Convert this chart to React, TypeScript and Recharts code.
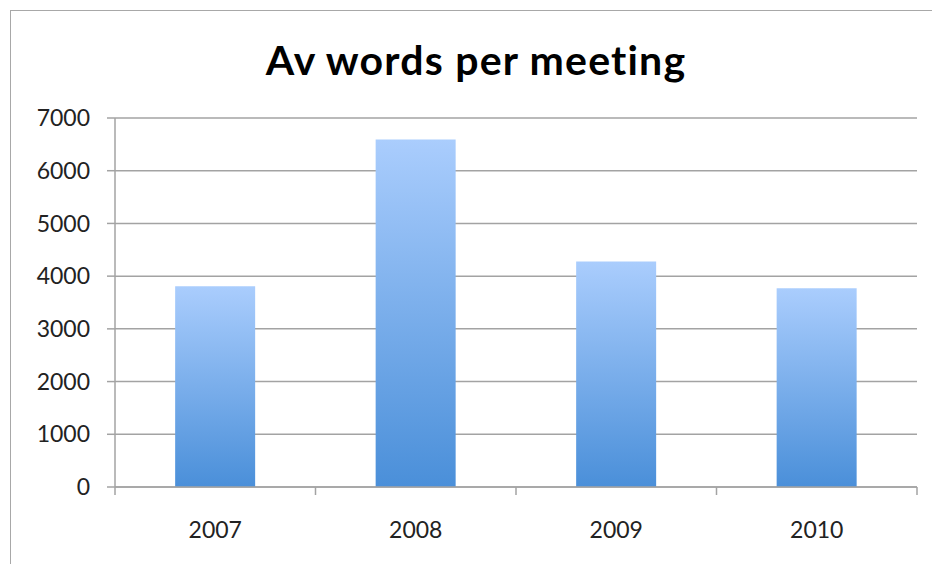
import { BarChart, Bar, XAxis, YAxis, CartesianGrid } from "recharts"

const years = ["2007", "2008", "2009", "2010"]
const avgWords = [3810, 6590, 4280, 3770]
const yTicks = [0, 1000, 2000, 3000, 4000, 5000, 6000, 7000]
const edgeTicks = [0, 1, 2, 3, 4]

const data = years.map((year, i) => ({ year, words: avgWords[i], pos: i + 0.5 }))

const AXIS_GREY = "#a3a3a3"
const FONT = "Lato, 'Open Sans', sans-serif"

export default function App() {
  return (
    <div
      style={{
        position: "fixed",
        left: 0,
        top: 0,
        width: 932,
        height: 564,
        background: "#fff",
        overflow: "hidden",
      }}
    >
      {/* frame of the original chart object, cut off at right and bottom */}
      <div
        style={{
          position: "absolute",
          left: 10,
          top: 10,
          right: -20,
          bottom: -20,
          borderLeft: "1.5px solid #a8a8a8",
          borderTop: "1.5px solid #a8a8a8",
        }}
      />
      <div
        style={{
          position: "absolute",
          left: 0,
          width: 952,
          top: 35,
          textAlign: "center",
          fontFamily: FONT,
          fontWeight: 700,
          fontSize: 41,
          letterSpacing: 1.2,
          lineHeight: "50px",
          color: "#000",
        }}
      >
        Av words per meeting
      </div>
      <div style={{ position: "absolute", left: 0, top: 0 }}>
        <BarChart
          width={932}
          height={564}
          data={data}
          margin={{ top: 118, right: 15, bottom: 0, left: 0 }}
          barCategoryGap="30%"
        >
          <defs>
            <linearGradient id="barFill" x1="0" y1="0" x2="0" y2="1">
              <stop offset="0%" stopColor="#aacdfd" />
              <stop offset="100%" stopColor="#4a8fd9" />
            </linearGradient>
          </defs>
          <CartesianGrid vertical={false} stroke={AXIS_GREY} strokeWidth={1.5} />
          {/* boundary ticks between categories, like the original axis */}
          <XAxis
            xAxisId="a_edges"
            type="number"
            dataKey="pos"
            domain={[0, 4]}
            ticks={edgeTicks}
            interval={0}
            allowDataOverflow
            height={1}
            tickSize={8}
            tickFormatter={() => ""}
            axisLine={{ stroke: AXIS_GREY, strokeWidth: 1.5 }}
            tickLine={{ stroke: AXIS_GREY, strokeWidth: 1.5 }}
          />
          <XAxis
            xAxisId="b_cat"
            dataKey="year"
            height={76}
            axisLine={false}
            tickLine={false}
            tickSize={34}
            tickMargin={0}
            tick={{ fill: "#222", fontSize: 23, fontFamily: FONT }}
          />
          <YAxis
            domain={[0, 7000]}
            ticks={yTicks}
            interval={0}
            width={115}
            tickSize={8}
            tickMargin={17}
            axisLine={{ stroke: AXIS_GREY, strokeWidth: 1.5 }}
            tickLine={{ stroke: AXIS_GREY, strokeWidth: 1.5 }}
            tick={{ fill: "#222", fontSize: 23, fontFamily: FONT }}
          />
          <Bar xAxisId="b_cat" dataKey="words" fill="url(#barFill)" isAnimationActive={false} />
        </BarChart>
      </div>
    </div>
  )
}
